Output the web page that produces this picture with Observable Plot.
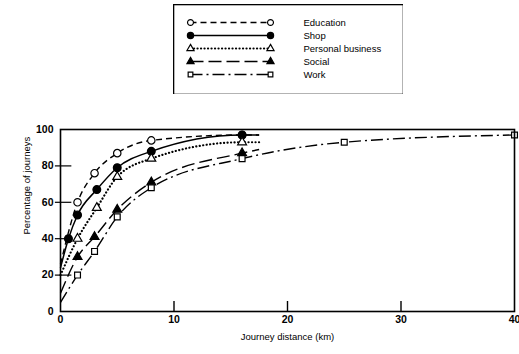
<!DOCTYPE html>
<html>
<head>
<meta charset="utf-8">
<script src="https://cdn.jsdelivr.net/npm/d3@7"></script>
<script src="https://cdn.jsdelivr.net/npm/@observablehq/plot@0.6"></script>
<style>
  html, body { margin: 0; padding: 0; background: #fff; }
  #wrap { position: relative; width: 519px; height: 354px; overflow: hidden; font-family: "Liberation Sans", Arial, sans-serif; }
  #legend { position: absolute; left: 173px; top: 4px; }
  #chart { position: absolute; left: 0; top: 100px; }
  svg { font-family: "Liberation Sans", Arial, sans-serif; }
</style>
</head>
<body>
<div id="wrap"><div id="legend"></div><div id="chart"></div></div>
<script>
// ---- data ----
const seriesNames = ["Education", "Shop", "Personal business", "Social", "Work"];

const educationKm  = [0, 1.5, 3, 5, 8, 16, 17.5];
const educationPct = [26, 60, 76, 87, 94, 97, 97];
const educationMarked = [0, 1, 1, 1, 1, 1, 0];

const shopKm  = [0, 0.7, 1.5, 3.2, 5, 8, 16, 17.5];
const shopPct = [24, 40, 53, 67, 79, 88, 97, 97];
const shopMarked = [0, 1, 1, 1, 1, 1, 1, 0];

const personalKm  = [0, 1.5, 3.2, 5, 8, 16, 17.5];
const personalPct = [20, 40, 57, 74, 84, 93, 93];
const personalMarked = [0, 1, 1, 1, 1, 1, 0];

const socialKm  = [0, 1.5, 3, 5, 8, 16, 17.5];
const socialPct = [10, 30, 41, 56, 71, 87, 89];
const socialMarked = [0, 1, 1, 1, 1, 1, 0];

const workKm  = [0, 1.5, 3, 5, 8, 16, 25, 40];
const workPct = [5, 20, 33, 52, 68, 84, 93, 97];
const workMarked = [0, 1, 1, 1, 1, 1, 1, 1];

const xTicks = [0, 10, 20, 30, 40];
const yTicks = [0, 20, 40, 60, 80, 100];

// ---- styles ----
const styles = [
  {dash: "6,4", cap: "butt", width: 1.4, symbol: "circle", filled: false, r: 3.7},
  {dash: null, cap: "butt", width: 1.5, symbol: "circle", filled: true, r: 3.9},
  {dash: "0.1,3.4", cap: "round", width: 2.2, symbol: "triangle", filled: false, r: 3.3},
  {dash: "13,5", cap: "butt", width: 1.4, symbol: "triangle", filled: true, r: 3.3},
  {dash: "12,4,2,4", cap: "butt", width: 1.4, symbol: "square", filled: false, r: 3.3}
];

const kmArrays = [educationKm, shopKm, personalKm, socialKm, workKm];
const pctArrays = [educationPct, shopPct, personalPct, socialPct, workPct];
const markedArrays = [educationMarked, shopMarked, personalMarked, socialMarked, workMarked];

const seriesRows = seriesNames.map((name, i) =>
  kmArrays[i].map((km, j) => ({series: name, km, pct: pctArrays[i][j], marked: !!markedArrays[i][j]})));

const font = "Liberation Sans, Arial, sans-serif";

// ---- main chart ----
const lineMarks = seriesRows.map((rows, i) => Plot.line(rows, {
  x: "km", y: "pct", curve: "monotone-x", stroke: "black",
  strokeWidth: styles[i].width, strokeDasharray: styles[i].dash, strokeLinecap: styles[i].cap
}));
const dotMarks = seriesRows.map((rows, i) => Plot.dot(rows.filter(d => d.marked), {
  x: "km", y: "pct", symbol: () => styles[i].symbol, r: styles[i].r,
  fill: styles[i].filled ? "black" : "white", stroke: "black", strokeWidth: 1.2
}));

const chart = Plot.plot({
  width: 519, height: 254,
  marginLeft: 60, marginRight: 5, marginTop: 29, marginBottom: 43,
  style: {fontFamily: font, background: "transparent"},
  x: {domain: [0, 40]},
  y: {domain: [0, 100]},
  symbol: {type: "identity"},
  marks: [
    Plot.ruleX(xTicks.slice(1, -1), {y1: 0, y2: 5.5, stroke: "black", strokeWidth: 1.4}),
    Plot.ruleY(yTicks.slice(1, -1), {x1: -0.45, x2: 1.0, stroke: "black", strokeWidth: 1.2}),
    Plot.axisX(xTicks, {tickSize: 0, tickPadding: 4, fontSize: 10.5, fontWeight: "bold", label: null, fill: "black"}),
    Plot.axisY(yTicks, {tickSize: 0, tickPadding: 7, fontSize: 10.5, fontWeight: "bold", label: null, fill: "black"}),
    ...lineMarks,
    ...dotMarks,
    Plot.frame({stroke: "black", strokeWidth: 1.6}),
    Plot.text(["Journey distance (km)"], {frameAnchor: "bottom", dy: 28, fontSize: 9.5, fill: "black"}),
    Plot.text(["Percentage of journeys"], {frameAnchor: "left", dx: -34, dy: 14, rotate: -90, fontSize: 9.5, fill: "black"})
  ]
});
document.getElementById("chart").appendChild(chart);

// ---- legend ----
const legendMarks = [];
seriesNames.forEach((name, i) => {
  const st = styles[i];
  legendMarks.push(Plot.link([name], {x1: () => 0, x2: () => 1, y1: d => d, y2: d => d,
    stroke: "black", strokeWidth: st.width, strokeDasharray: st.dash, strokeLinecap: st.cap}));
  legendMarks.push(Plot.dot([0, 1], {x: d => d, y: () => name, symbol: () => st.symbol, r: st.r * 0.8,
    fill: st.filled ? "black" : "white", stroke: "black", strokeWidth: 1.2}));
});
const legend = Plot.plot({
  width: 230, height: 90, margin: 0,
  style: {fontFamily: font, background: "transparent"},
  x: {domain: [0, 1], range: [17, 97], axis: null},
  y: {type: "point", domain: seriesNames, range: [18, 70], padding: 0, axis: null},
  symbol: {type: "identity"},
  marks: [
    Plot.frame({stroke: "black", strokeWidth: 1.6}),
    ...legendMarks,
    Plot.text(seriesNames, {x: () => 1, y: d => d, text: d => d, dx: 33, textAnchor: "start", fontSize: 9.5, fill: "black"})
  ]
});
document.getElementById("legend").appendChild(legend);
</script>
</body>
</html>
